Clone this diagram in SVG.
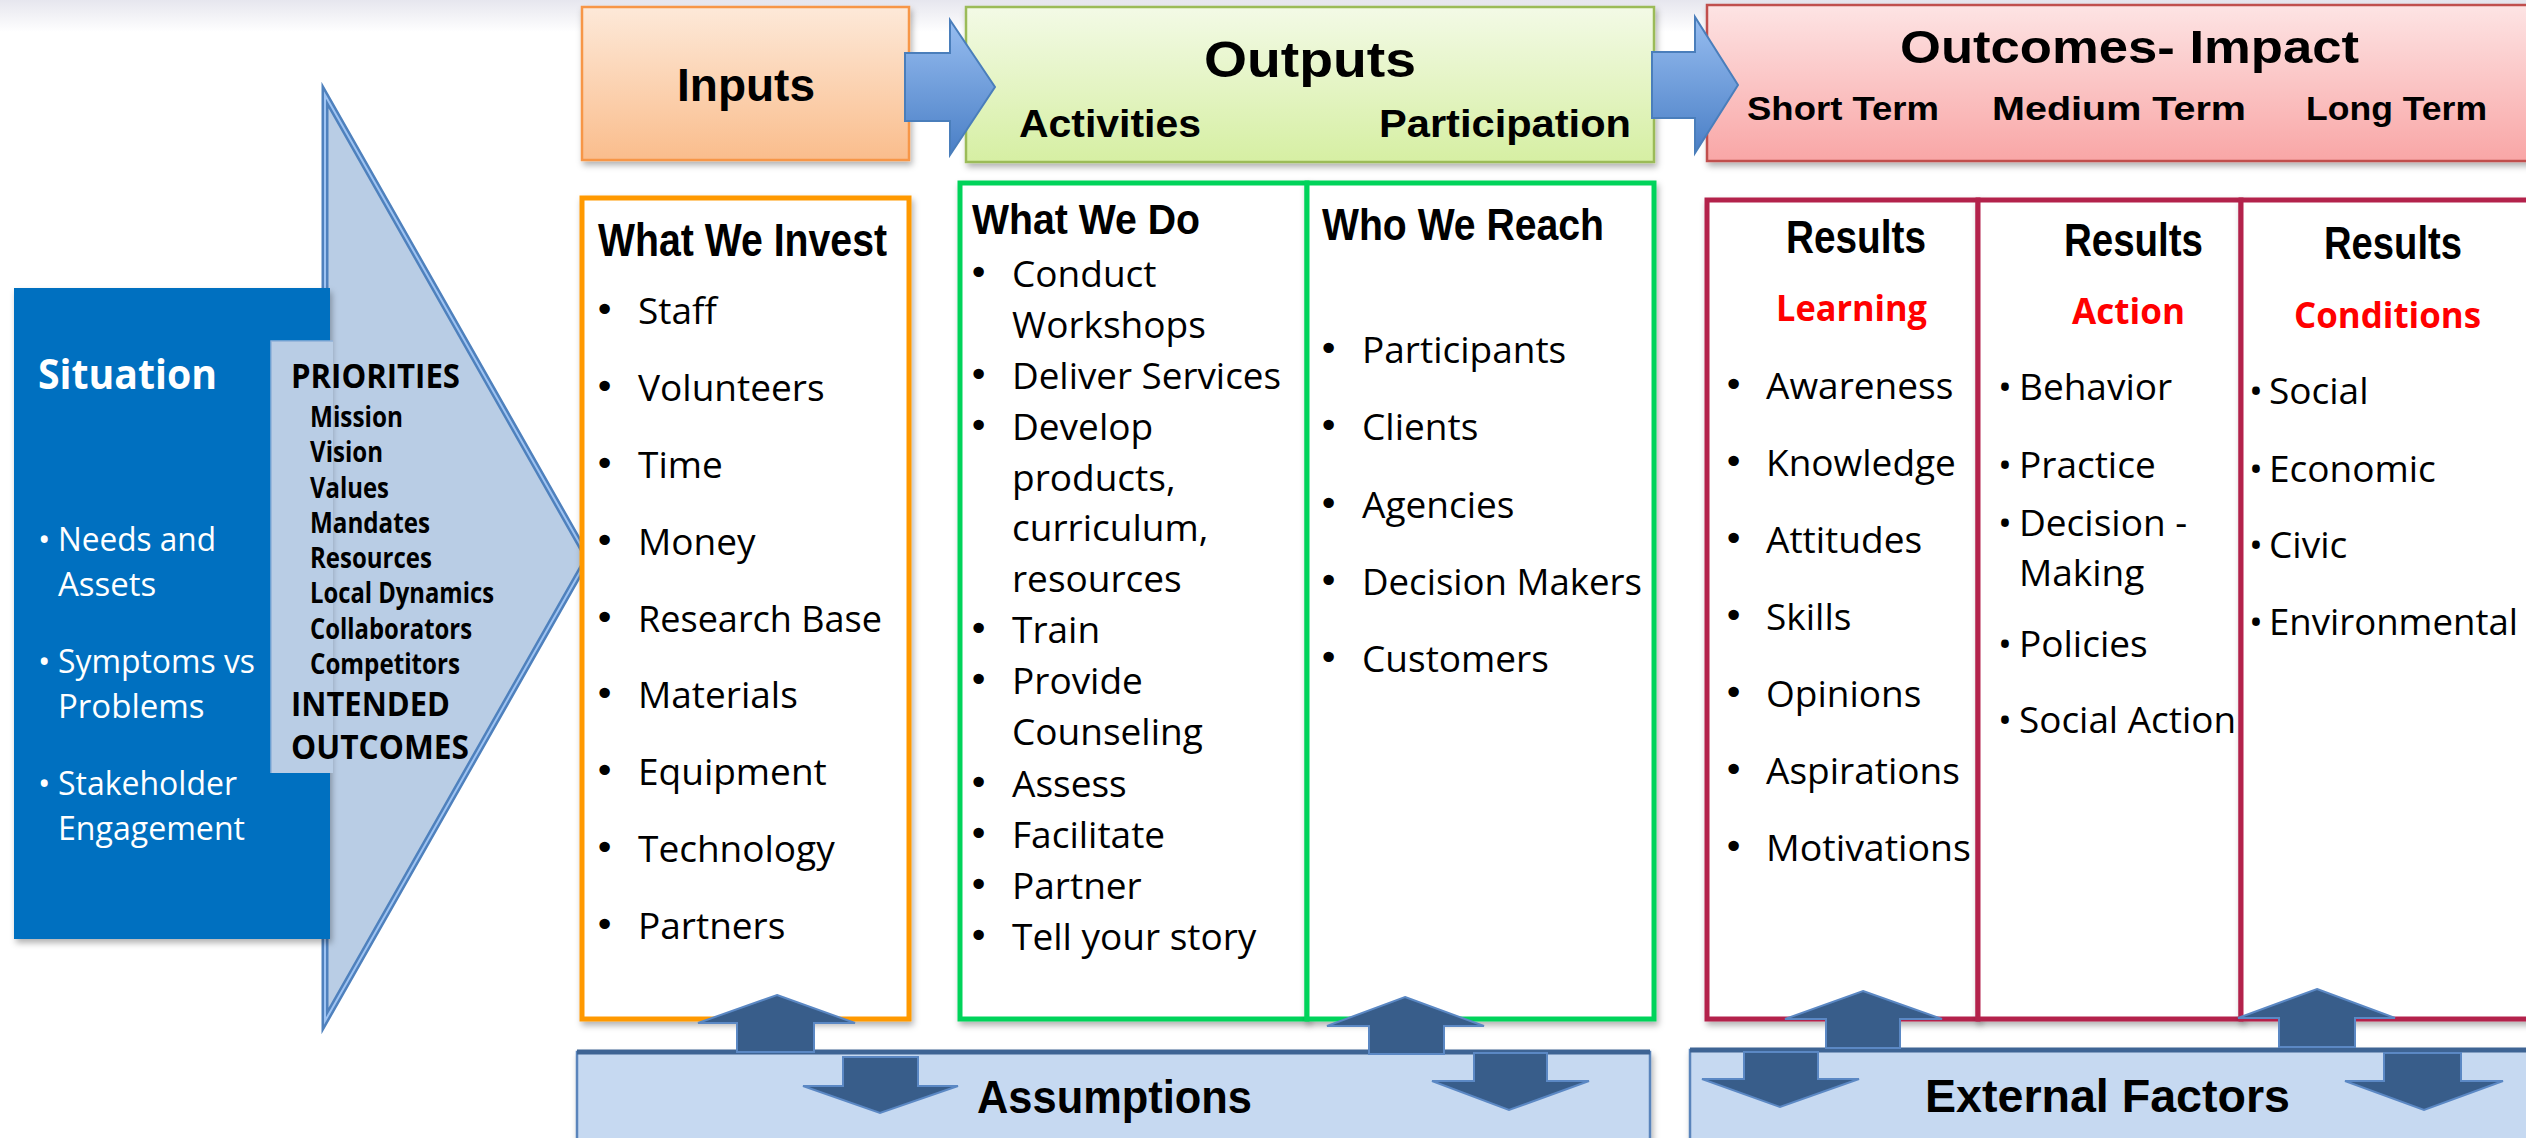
<svg xmlns="http://www.w3.org/2000/svg" width="2526" height="1138" viewBox="0 0 2526 1138">
<defs>
  <linearGradient id="gTop" x1="0" y1="0" x2="0" y2="1"><stop offset="0" stop-color="#e6e6ee"/><stop offset="1" stop-color="#ffffff"/></linearGradient>
  <linearGradient id="gIn" x1="0" y1="0" x2="0" y2="1"><stop offset="0" stop-color="#fde9d9"/><stop offset="1" stop-color="#fabd8c"/></linearGradient>
  <linearGradient id="gOut" x1="0" y1="0" x2="0" y2="1"><stop offset="0" stop-color="#f3fae6"/><stop offset="1" stop-color="#d6efa3"/></linearGradient>
  <linearGradient id="gOc" x1="0" y1="0" x2="0" y2="1"><stop offset="0" stop-color="#fde4e4"/><stop offset="1" stop-color="#f9a6a6"/></linearGradient>
  <linearGradient id="gArr" x1="0" y1="0" x2="0" y2="1"><stop offset="0" stop-color="#97bdf0"/><stop offset="1" stop-color="#4a7fc6"/></linearGradient>
  <filter id="sh" x="-5%" y="-5%" width="112%" height="125%"><feDropShadow dx="2" dy="4" stdDeviation="3" flood-color="#000" flood-opacity="0.3"/></filter>
  <style>
    .hb{font-family:"Liberation Sans",Arial,sans-serif;font-weight:bold;fill:#000}
    .it{font-family:"Open Sans","Liberation Sans",sans-serif;font-size:37px;fill:#000}
    .bu{font-family:"DejaVu Sans",sans-serif;font-size:36px}
    .ob{font-family:"Open Sans","Liberation Sans",sans-serif;font-weight:bold}
    .red{fill:#ff0000;font-size:36px}
    .wt{fill:#ffffff}
    .pr{font-family:"Open Sans","Liberation Sans",sans-serif;font-weight:bold;font-size:28px;fill:#000}
    .ud{fill:#385d8a;stroke:#5b88c4;stroke-width:2;stroke-linejoin:miter}
    .bar{fill:url(#gArr);stroke:#4a7ebb;stroke-width:2}
  </style>
</defs>
<rect x="0" y="0" width="2526" height="1138" fill="#ffffff"/>
<rect x="0" y="0" width="2526" height="32" fill="url(#gTop)"/>

<!-- Situation / Priorities -->
<g id="priorities-arrow">
  <polygon points="325,95 588,558 325,1021" fill="#b9cde5" stroke="#4f81bd" stroke-width="7" stroke-linejoin="miter"/>
  <polygon points="325,95 588,558 325,1021" fill="none" stroke="#9ec3f2" stroke-width="2"/>
</g>
<g id="situation">
  <rect x="14" y="288" width="316" height="651" fill="#0070c0" filter="url(#sh)"/>
  <text x="38" y="389" class="ob wt" font-size="42" textLength="179" lengthAdjust="spacingAndGlyphs">Situation</text>
  <g class="wt" font-family="Open Sans, Liberation Sans, sans-serif" font-size="33">
    <text x="38" y="551">•</text><text x="58" y="551" textLength="158" lengthAdjust="spacingAndGlyphs">Needs and</text>
    <text x="58" y="596">Assets</text>
    <text x="38" y="673">•</text><text x="58" y="673" textLength="197" lengthAdjust="spacingAndGlyphs">Symptoms vs</text>
    <text x="58" y="718">Problems</text>
    <text x="38" y="795">•</text><text x="58" y="795" textLength="179" lengthAdjust="spacingAndGlyphs">Stakeholder</text>
    <text x="58" y="840" textLength="187" lengthAdjust="spacingAndGlyphs">Engagement</text>
  </g>
</g>
<g id="priorities">
  <rect x="271" y="341" width="62" height="432" fill="#b9cde5"/>
  <path d="M271,773 L271,341 L333,341" fill="none" stroke="#8fb0d8" stroke-width="1.5"/>
  <text x="291" y="388" class="ob" font-size="34" textLength="169" lengthAdjust="spacingAndGlyphs">PRIORITIES</text>
  <text x="310" y="427" class="pr" textLength="93" lengthAdjust="spacingAndGlyphs">Mission</text>
  <text x="310" y="462" class="pr" textLength="73" lengthAdjust="spacingAndGlyphs">Vision</text>
  <text x="310" y="498" class="pr" textLength="79" lengthAdjust="spacingAndGlyphs">Values</text>
  <text x="310" y="533" class="pr" textLength="120" lengthAdjust="spacingAndGlyphs">Mandates</text>
  <text x="310" y="568" class="pr" textLength="122" lengthAdjust="spacingAndGlyphs">Resources</text>
  <text x="310" y="603" class="pr" textLength="184" lengthAdjust="spacingAndGlyphs">Local Dynamics</text>
  <text x="310" y="639" class="pr" textLength="162" lengthAdjust="spacingAndGlyphs">Collaborators</text>
  <text x="310" y="674" class="pr" textLength="150" lengthAdjust="spacingAndGlyphs">Competitors</text>
  <text x="291" y="716" class="ob" font-size="34" textLength="159" lengthAdjust="spacingAndGlyphs">INTENDED</text>
  <text x="291" y="759" class="ob" font-size="34" textLength="178" lengthAdjust="spacingAndGlyphs">OUTCOMES</text>
</g>

<!-- Header boxes -->
<g id="inputs-header">
  <rect x="582" y="7" width="327" height="153" fill="url(#gIn)" stroke="#f79646" stroke-width="2.5" filter="url(#sh)"/>
  <text x="677" y="101" class="hb" font-size="46" textLength="138" lengthAdjust="spacingAndGlyphs">Inputs</text>
</g>
<g id="outputs-header">
  <rect x="966" y="7" width="688" height="155" fill="url(#gOut)" stroke="#9bbb59" stroke-width="2.5" filter="url(#sh)"/>
  <text x="1204" y="77" class="hb" font-size="50" textLength="212" lengthAdjust="spacingAndGlyphs">Outputs</text>
  <text x="1019" y="137" class="hb" font-size="38" textLength="182" lengthAdjust="spacingAndGlyphs">Activities</text>
  <text x="1379" y="137" class="hb" font-size="38" textLength="252" lengthAdjust="spacingAndGlyphs">Participation</text>
</g>
<g id="outcomes-header">
  <rect x="1707" y="5" width="830" height="156" fill="url(#gOc)" stroke="#c0504d" stroke-width="2.5" filter="url(#sh)"/>
  <text x="1900" y="63" class="hb" font-size="46" textLength="459" lengthAdjust="spacingAndGlyphs">Outcomes- Impact</text>
  <text x="1747" y="120" class="hb" font-size="34" textLength="192" lengthAdjust="spacingAndGlyphs">Short Term</text>
  <text x="1992" y="120" class="hb" font-size="34" textLength="254" lengthAdjust="spacingAndGlyphs">Medium Term</text>
  <text x="2306" y="120" class="hb" font-size="34" textLength="181" lengthAdjust="spacingAndGlyphs">Long Term</text>
</g>

<!-- Content boxes -->
<g id="what-we-invest">
  <rect x="582" y="198" width="327" height="821" fill="#ffffff" stroke="#ff9900" stroke-width="5" filter="url(#sh)"/>
  <text x="598" y="256" class="hb" font-size="46" textLength="289" lengthAdjust="spacingAndGlyphs">What We Invest</text>
  <text class="it"><tspan class="bu" x="594" y="322">•</tspan><tspan x="638" y="324">Staff</tspan></text>
  <text class="it"><tspan class="bu" x="594" y="399">•</tspan><tspan x="638" y="401">Volunteers</tspan></text>
  <text class="it"><tspan class="bu" x="594" y="476">•</tspan><tspan x="638" y="478">Time</tspan></text>
  <text class="it"><tspan class="bu" x="594" y="553">•</tspan><tspan x="638" y="555">Money</tspan></text>
  <text class="it"><tspan class="bu" x="594" y="630">•</tspan><tspan x="638" y="632" textLength="244" lengthAdjust="spacingAndGlyphs">Research Base</tspan></text>
  <text class="it"><tspan class="bu" x="594" y="706">•</tspan><tspan x="638" y="708">Materials</tspan></text>
  <text class="it"><tspan class="bu" x="594" y="783">•</tspan><tspan x="638" y="785">Equipment</tspan></text>
  <text class="it"><tspan class="bu" x="594" y="860">•</tspan><tspan x="638" y="862">Technology</tspan></text>
  <text class="it"><tspan class="bu" x="594" y="937">•</tspan><tspan x="638" y="939">Partners</tspan></text>
</g>
<g id="what-we-do">
  <rect x="960" y="183" width="347" height="836" fill="#ffffff" stroke="#00d35a" stroke-width="5" filter="url(#sh)"/>
  <text x="972" y="234" class="hb" font-size="43" textLength="228" lengthAdjust="spacingAndGlyphs">What We Do</text>
  <text class="it"><tspan class="bu" x="968" y="285">•</tspan><tspan x="1012" y="287">Conduct</tspan></text>
  <text class="it"><tspan x="1012" y="338">Workshops</tspan></text>
  <text class="it"><tspan class="bu" x="968" y="387">•</tspan><tspan x="1012" y="389" textLength="269" lengthAdjust="spacingAndGlyphs">Deliver Services</tspan></text>
  <text class="it"><tspan class="bu" x="968" y="438">•</tspan><tspan x="1012" y="440">Develop</tspan></text>
  <text class="it"><tspan x="1012" y="491">products,</tspan></text>
  <text class="it"><tspan x="1012" y="541">curriculum,</tspan></text>
  <text class="it"><tspan x="1012" y="592">resources</tspan></text>
  <text class="it"><tspan class="bu" x="968" y="641">•</tspan><tspan x="1012" y="643">Train</tspan></text>
  <text class="it"><tspan class="bu" x="968" y="692">•</tspan><tspan x="1012" y="694">Provide</tspan></text>
  <text class="it"><tspan x="1012" y="745">Counseling</tspan></text>
  <text class="it"><tspan class="bu" x="968" y="795">•</tspan><tspan x="1012" y="797">Assess</tspan></text>
  <text class="it"><tspan class="bu" x="968" y="846">•</tspan><tspan x="1012" y="848">Facilitate</tspan></text>
  <text class="it"><tspan class="bu" x="968" y="897">•</tspan><tspan x="1012" y="899">Partner</tspan></text>
  <text class="it"><tspan class="bu" x="968" y="948">•</tspan><tspan x="1012" y="950">Tell your story</tspan></text>
</g>
<g id="who-we-reach">
  <rect x="1307" y="183" width="347" height="836" fill="#ffffff" stroke="#00d35a" stroke-width="5" filter="url(#sh)"/>
  <text x="1322" y="240" class="hb" font-size="44" textLength="282" lengthAdjust="spacingAndGlyphs">Who We Reach</text>
  <text class="it"><tspan class="bu" x="1318" y="361">•</tspan><tspan x="1362" y="363">Participants</tspan></text>
  <text class="it"><tspan class="bu" x="1318" y="438">•</tspan><tspan x="1362" y="440">Clients</tspan></text>
  <text class="it"><tspan class="bu" x="1318" y="516">•</tspan><tspan x="1362" y="518">Agencies</tspan></text>
  <text class="it"><tspan class="bu" x="1318" y="593">•</tspan><tspan x="1362" y="595" textLength="280" lengthAdjust="spacingAndGlyphs">Decision Makers</tspan></text>
  <text class="it"><tspan class="bu" x="1318" y="670">•</tspan><tspan x="1362" y="672">Customers</tspan></text>
</g>
<g id="results-learning">
  <rect x="1707" y="200" width="271" height="819" fill="#ffffff" stroke="#b3214c" stroke-width="5" filter="url(#sh)"/>
  <text x="1786" y="253" class="hb" font-size="46" textLength="140" lengthAdjust="spacingAndGlyphs">Results</text>
  <text x="1776" y="321" class="ob red" textLength="151" lengthAdjust="spacingAndGlyphs">Learning</text>
  <text class="it"><tspan class="bu" x="1723" y="397">•</tspan><tspan x="1766" y="399">Awareness</tspan></text>
  <text class="it"><tspan class="bu" x="1723" y="474">•</tspan><tspan x="1766" y="476">Knowledge</tspan></text>
  <text class="it"><tspan class="bu" x="1723" y="551">•</tspan><tspan x="1766" y="553">Attitudes</tspan></text>
  <text class="it"><tspan class="bu" x="1723" y="628">•</tspan><tspan x="1766" y="630">Skills</tspan></text>
  <text class="it"><tspan class="bu" x="1723" y="705">•</tspan><tspan x="1766" y="707">Opinions</tspan></text>
  <text class="it"><tspan class="bu" x="1723" y="782">•</tspan><tspan x="1766" y="784">Aspirations</tspan></text>
  <text class="it"><tspan class="bu" x="1723" y="859">•</tspan><tspan x="1766" y="861" textLength="205" lengthAdjust="spacingAndGlyphs">Motivations</tspan></text>
</g>
<g id="results-action">
  <rect x="1978" y="200" width="263" height="819" fill="#ffffff" stroke="#b3214c" stroke-width="5" filter="url(#sh)"/>
  <text x="2064" y="256" class="hb" font-size="46" textLength="139" lengthAdjust="spacingAndGlyphs">Results</text>
  <text x="2072" y="324" class="ob red" textLength="113" lengthAdjust="spacingAndGlyphs">Action</text>
  <text class="it"><tspan x="1998" y="400">•</tspan><tspan x="2019" y="400">Behavior</tspan></text>
  <text class="it"><tspan x="1998" y="478">•</tspan><tspan x="2019" y="478">Practice</tspan></text>
  <text class="it"><tspan x="1998" y="536">•</tspan><tspan x="2019" y="536">Decision -</tspan></text>
  <text class="it"><tspan x="2019" y="586">Making</tspan></text>
  <text class="it"><tspan x="1998" y="657">•</tspan><tspan x="2019" y="657">Policies</tspan></text>
  <text class="it"><tspan x="1998" y="733">•</tspan><tspan x="2019" y="733" textLength="217" lengthAdjust="spacingAndGlyphs">Social Action</tspan></text>
</g>
<g id="results-conditions">
  <rect x="2241" y="200" width="300" height="819" fill="#ffffff" stroke="#b3214c" stroke-width="5" filter="url(#sh)"/>
  <text x="2324" y="259" class="hb" font-size="46" textLength="138" lengthAdjust="spacingAndGlyphs">Results</text>
  <text x="2294" y="328" class="ob red" textLength="187" lengthAdjust="spacingAndGlyphs">Conditions</text>
  <text class="it"><tspan x="2249" y="404">•</tspan><tspan x="2269" y="404">Social</tspan></text>
  <text class="it"><tspan x="2249" y="482">•</tspan><tspan x="2269" y="482">Economic</tspan></text>
  <text class="it"><tspan x="2249" y="558">•</tspan><tspan x="2269" y="558">Civic</tspan></text>
  <text class="it"><tspan x="2249" y="635">•</tspan><tspan x="2269" y="635" textLength="249" lengthAdjust="spacingAndGlyphs">Environmental</tspan></text>
</g>

<!-- Bottom boxes -->
<g id="assumptions">
  <rect x="577" y="1052" width="1073" height="100" fill="#c6d9f1" stroke="#5a84bb" stroke-width="2.5" filter="url(#sh)"/>
  <line x1="577" y1="1052" x2="1650" y2="1052" stroke="#3e6494" stroke-width="5"/>
  <text x="977" y="1113" class="hb" font-size="46" textLength="275" lengthAdjust="spacingAndGlyphs">Assumptions</text>
</g>
<g id="external-factors">
  <rect x="1690" y="1050" width="850" height="100" fill="#c6d9f1" stroke="#5a84bb" stroke-width="2.5" filter="url(#sh)"/>
  <line x1="1690" y1="1050" x2="2540" y2="1050" stroke="#3e6494" stroke-width="5"/>
  <text x="1925" y="1112" class="hb" font-size="46" textLength="365" lengthAdjust="spacingAndGlyphs">External Factors</text>
</g>

<!-- Connectors -->
<g id="connectors">
  <polygon class="bar" points="905,53 950,53 950,20 995,87 950,155 950,121 905,121"/>
  <polygon class="bar" points="1652,52 1695,52 1695,17 1738,85 1695,153 1695,118 1652,118"/>
  <polygon class="ud" points="777,995 855,1023 814,1023 814,1052 737,1052 737,1023 698,1023"/>
  <polygon class="ud" points="843,1057 918,1057 918,1086 958,1086 880,1113 803,1086 843,1086"/>
  <polygon class="ud" points="1405,997 1484,1026 1444,1026 1444,1054 1369,1054 1369,1026 1327,1026"/>
  <polygon class="ud" points="1474,1053 1547,1053 1547,1081 1589,1081 1509,1110 1432,1081 1474,1081"/>
  <polygon class="ud" points="1863,991 1942,1019 1900,1019 1900,1048 1826,1048 1826,1019 1785,1019"/>
  <polygon class="ud" points="1744,1052 1818,1052 1818,1079 1859,1079 1780,1107 1702,1079 1744,1079"/>
  <polygon class="ud" points="2317,989 2395,1018 2355,1018 2355,1047 2279,1047 2279,1018 2238,1018"/>
  <polygon class="ud" points="2384,1053 2461,1053 2461,1081 2503,1081 2424,1110 2345,1081 2384,1081"/>
</g>
</svg>
